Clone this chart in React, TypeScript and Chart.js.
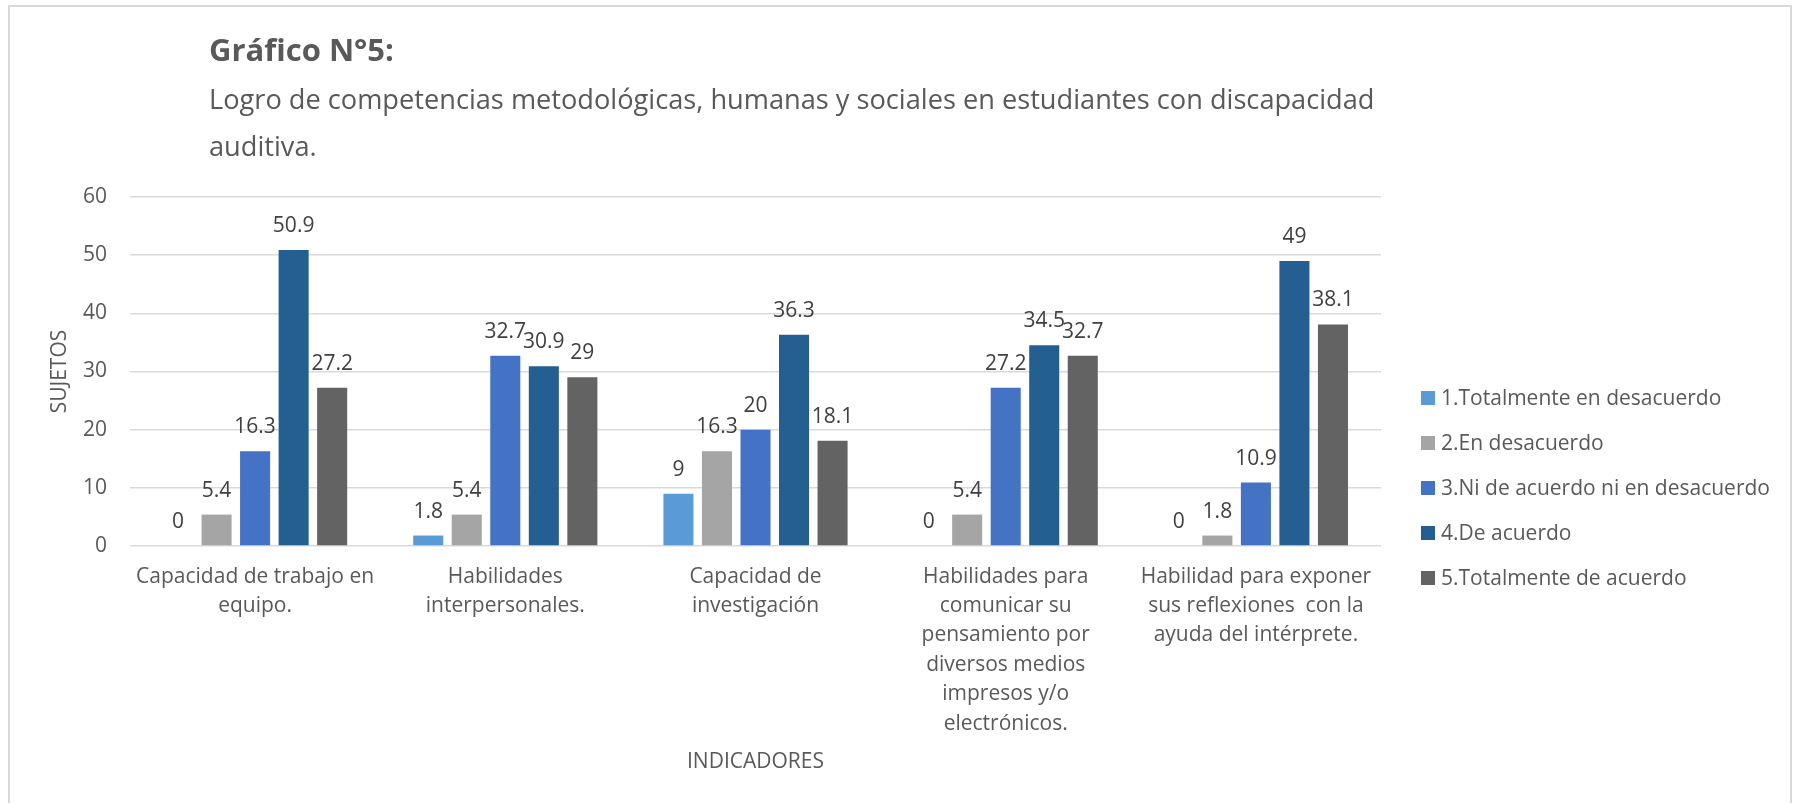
import React, { useEffect, useRef } from "react";
import { Chart, registerables } from "chart.js";

Chart.register(...registerables);

// ---------- data ----------
const categories: string[][] = [
  ["Capacidad de trabajo en", "equipo."],
  ["Habilidades", "interpersonales."],
  ["Capacidad de", "investigación"],
  ["Habilidades para", "comunicar su", "pensamiento por", "diversos medios", "impresos y/o", "electrónicos."],
  ["Habilidad para exponer", "sus reflexiones  con la", "ayuda del intérprete."],
];
const seriesNames = [
  "1.Totalmente en desacuerdo",
  "2.En desacuerdo",
  "3.Ni de acuerdo ni en desacuerdo",
  "4.De acuerdo",
  "5.Totalmente de acuerdo",
];
const totalmenteEnDesacuerdo = [0, 1.8, 9, 0, 0];
const enDesacuerdo = [5.4, 5.4, 16.3, 5.4, 1.8];
const niDeAcuerdoNiEnDesacuerdo = [16.3, 32.7, 20, 27.2, 10.9];
const deAcuerdo = [50.9, 30.9, 36.3, 34.5, 49];
const totalmenteDeAcuerdo = [27.2, 29, 18.1, 32.7, 38.1];
const seriesColors = ["#5B9BD5", "#A5A5A5", "#4472C4", "#255E91", "#636363"];
const yMin = 0;
const yMax = 60;
const yStep = 10;
const chartTitle = "Gráfico N°5:";
const chartSubtitle = [
  "Logro de competencias metodológicas, humanas y sociales en estudiantes con discapacidad",
  "auditiva.",
];
const yAxisTitle = "SUJETOS";
const xAxisTitle = "INDICADORES";

// ---------- style ----------
const FONT = "'Open Sans', 'Noto Sans', sans-serif";
const TEXT = "#595959";
const LABEL = "#404040";
const GRID = "#D9D9D9";
const W = 1780;
const H = 796;

const titlePlugin = {
  id: "customTitle",
  afterDraw(chart: any) {
    const ctx = chart.ctx;
    ctx.save();
    ctx.fillStyle = TEXT;
    ctx.textAlign = "left";
    ctx.textBaseline = "middle";
    ctx.font = `bold 31px ${FONT}`;
    ctx.fillText(chartTitle, 199, 45);
    ctx.font = `27.2px ${FONT}`;
    chartSubtitle.forEach((line, i) => ctx.fillText(line, 199, 94 + i * 47));
    ctx.restore();
  },
};

const legendPlugin = {
  id: "customLegend",
  afterDraw(chart: any) {
    const ctx = chart.ctx;
    ctx.save();
    ctx.font = `21px ${FONT}`;
    ctx.textAlign = "left";
    ctx.textBaseline = "middle";
    chart.data.datasets.forEach((ds: any, i: number) => {
      const cy = 391 + i * 45;
      ctx.fillStyle = ds.backgroundColor;
      ctx.fillRect(1411, cy - 7, 14, 14);
      ctx.fillStyle = TEXT;
      ctx.fillText(ds.label, 1431, cy + 1);
    });
    ctx.restore();
  },
};

const dataLabelPlugin = {
  id: "dataLabels",
  afterDatasetsDraw(chart: any) {
    const ctx = chart.ctx;
    ctx.save();
    ctx.font = `21px ${FONT}`;
    ctx.fillStyle = LABEL;
    ctx.textAlign = "center";
    ctx.textBaseline = "alphabetic";
    chart.data.datasets.forEach((ds: any, i: number) => {
      const meta = chart.getDatasetMeta(i);
      meta.data.forEach((bar: any, j: number) => {
        ctx.fillText(String(ds.data[j]), bar.x, bar.y - 18);
      });
    });
    ctx.restore();
  },
};

export default function App() {
  const ref = useRef<HTMLCanvasElement>(null);

  useEffect(() => {
    if (!ref.current) return;
    const allSeries = [
      totalmenteEnDesacuerdo,
      enDesacuerdo,
      niDeAcuerdoNiEnDesacuerdo,
      deAcuerdo,
      totalmenteDeAcuerdo,
    ];
    const chart = new Chart(ref.current, {
      type: "bar",
      data: {
        labels: categories,
        datasets: allSeries.map((d, i) => ({
          label: seriesNames[i],
          data: d,
          backgroundColor: seriesColors[i],
          borderWidth: 0,
          categoryPercentage: 0.77,
          barPercentage: 0.78,
        })),
      },
      options: {
        responsive: false,
        animation: false,
        layout: { padding: { left: 0, right: 409, top: 190, bottom: 0 } },
        plugins: {
          legend: { display: false },
          title: { display: false },
          tooltip: { enabled: false },
        },
        scales: {
          x: {
            grid: { display: false, drawTicks: false },
            border: { display: false },
            ticks: {
              color: TEXT,
              font: { family: FONT, size: 21, lineHeight: 1.4 },
              padding: 16,
              autoSkip: false,
              maxRotation: 0,
              minRotation: 0,
            },
            title: {
              display: true,
              text: xAxisTitle,
              color: TEXT,
              font: { family: FONT, size: 21, lineHeight: 1.2 },
              padding: { top: 0, bottom: 28 },
            },
            afterFit: (s: any) => {
              s.height = H - 539;
            },
          },
          y: {
            min: yMin,
            max: yMax,
            grid: { color: GRID, lineWidth: 1.5, drawTicks: false },
            border: { display: false },
            ticks: {
              stepSize: yStep,
              color: TEXT,
              font: { family: FONT, size: 21 },
              padding: 23,
            },
            title: {
              display: true,
              text: yAxisTitle,
              color: TEXT,
              font: { family: FONT, size: 21, lineHeight: 1.2 },
              padding: { top: 37, bottom: 0 },
            },
            afterFit: (s: any) => {
              s.width = 120;
            },
          },
        },
      },
      plugins: [titlePlugin, legendPlugin, dataLabelPlugin],
    });
    return () => chart.destroy();
  }, []);

  return (
    <div
      style={{
        position: "absolute",
        left: 8,
        top: 5,
        width: 1784,
        height: 798,
        boxSizing: "border-box",
        borderTop: "2px solid #D9D9D9",
        borderLeft: "2px solid #D9D9D9",
        borderRight: "2px solid #D9D9D9",
        background: "#fff",
      }}
    >
      <canvas
        ref={ref}
        width={W}
        height={H}
        style={{ position: "absolute", left: 0, top: 0, width: W, height: H }}
      />
    </div>
  );
}
